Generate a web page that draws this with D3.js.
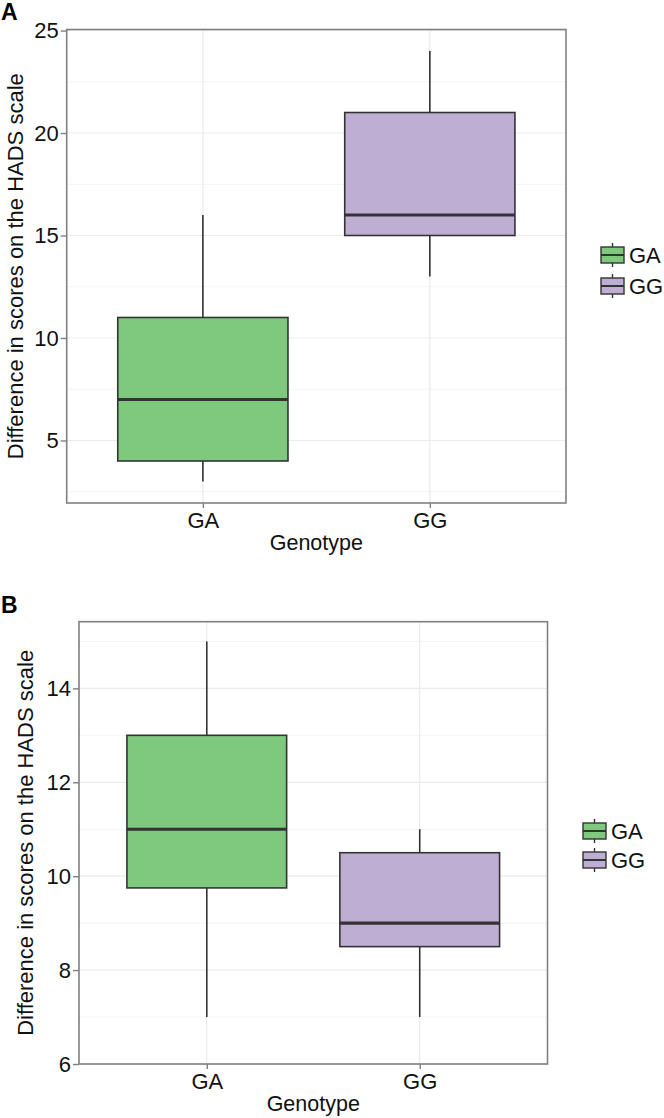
<!DOCTYPE html>
<html>
<head>
<meta charset="utf-8">
<script src="https://cdn.jsdelivr.net/npm/d3@7"></script>
<style>
  body { margin: 0; background: #fff; }
  svg { display: block; font-family: "Liberation Sans", Arial, sans-serif; }
</style>
</head>
<body>
<svg width="664" height="1118"></svg>
<script>
// genotypes, one box per genotype
var categories = ["GA", "GG"];
var colors = ["#7FC97F", "#BEAED4"];

// panel A five-number summaries
var aMin = [3, 13];
var aQ1 = [4, 15];
var aMedian = [7, 16];
var aQ3 = [11, 21];
var aMax = [16, 24];
var aTicks = [5, 10, 15, 20, 25];

// panel B five-number summaries
var bMin = [7, 7];
var bQ1 = [9.75, 8.5];
var bMedian = [11, 9];
var bQ3 = [13, 10.5];
var bMax = [15, 11];
var bTicks = [6, 8, 10, 12, 14];

var svg = d3.select("svg");

function drawPanel(p) {
    var g = svg.append("g");

    var x = d3.scaleLinear().domain([0.4, 2.6]).range([p.left, p.right]);
    var y = d3.scaleLinear().domain(p.domain).range([p.bottom, p.top]);

    // minor grid
    var minor = [];
    var step = p.ticks[1] - p.ticks[0];
    for (var i = 0; i < p.ticks.length + 1; i++) {
        var v = p.ticks[0] - step / 2 + i * step;
        if (v > p.domain[0] && v < p.domain[1]) minor.push(v);
    }
    g.selectAll(".minor").data(minor).enter().append("line")
        .attr("x1", p.left).attr("x2", p.right)
        .attr("y1", d => y(d)).attr("y2", d => y(d))
        .attr("stroke", "#f4f4f4").attr("stroke-width", 1);

    // major grid
    g.selectAll(".major").data(p.ticks).enter().append("line")
        .attr("x1", p.left).attr("x2", p.right)
        .attr("y1", d => y(d)).attr("y2", d => y(d))
        .attr("stroke", "#ebebeb").attr("stroke-width", 1.2);
    g.selectAll(".vmajor").data(categories).enter().append("line")
        .attr("x1", (d, i) => x(i + 1)).attr("x2", (d, i) => x(i + 1))
        .attr("y1", p.top).attr("y2", p.bottom)
        .attr("stroke", "#ebebeb").attr("stroke-width", 1.2);

    var s = p.stats;
    var boxes = g.selectAll(".box").data(categories).enter().append("g");
    // whiskers
    boxes.append("line")
        .attr("x1", (d, i) => x(i + 1)).attr("x2", (d, i) => x(i + 1))
        .attr("y1", (d, i) => y(s.max[i])).attr("y2", (d, i) => y(s.q3[i]))
        .attr("stroke", "#333").attr("stroke-width", 1.6);
    boxes.append("line")
        .attr("x1", (d, i) => x(i + 1)).attr("x2", (d, i) => x(i + 1))
        .attr("y1", (d, i) => y(s.q1[i])).attr("y2", (d, i) => y(s.min[i]))
        .attr("stroke", "#333").attr("stroke-width", 1.6);
    boxes.append("rect")
        .attr("x", (d, i) => x(i + 1 - 0.375))
        .attr("width", (d, i) => x(i + 1 + 0.375) - x(i + 1 - 0.375))
        .attr("y", (d, i) => y(s.q3[i]))
        .attr("height", (d, i) => y(s.q1[i]) - y(s.q3[i]))
        .attr("fill", (d, i) => colors[i])
        .attr("stroke", "#333").attr("stroke-width", 1.6);
    boxes.append("line")
        .attr("x1", (d, i) => x(i + 1 - 0.375)).attr("x2", (d, i) => x(i + 1 + 0.375))
        .attr("y1", (d, i) => y(s.median[i])).attr("y2", (d, i) => y(s.median[i]))
        .attr("stroke", "#333").attr("stroke-width", 3.2);

    // panel border
    g.append("rect")
        .attr("x", p.left).attr("y", p.top)
        .attr("width", p.right - p.left).attr("height", p.bottom - p.top)
        .attr("fill", "none").attr("stroke", "#808080").attr("stroke-width", 1.6);

    // axes
    var yAxis = g.append("g").attr("transform", "translate(" + p.left + ",0)")
        .call(d3.axisLeft(y).tickValues(p.ticks).tickSize(6).tickPadding(2));
    var xAxis = g.append("g").attr("transform", "translate(0," + p.bottom + ")")
        .call(d3.axisBottom(x).tickValues([1, 2]).tickFormat((d) => categories[d - 1])
              .tickSize(5).tickPadding(4));
    [yAxis, xAxis].forEach(function (a) {
        a.select(".domain").remove();
        a.selectAll("line").attr("stroke", "#808080").attr("stroke-width", 1.4);
        a.selectAll("text").attr("fill", "#111").style("font-size", "22px");
    });

    // titles
    g.append("text")
        .attr("transform", "translate(" + p.ylabX + "," + ((p.top + p.bottom) / 2) + ") rotate(-90)")
        .attr("text-anchor", "middle").style("font-size", "22px").attr("fill", "#111")
        .text("Difference in scores on the HADS scale");
    g.append("text")
        .attr("x", (p.left + p.right) / 2).attr("y", p.xlabY)
        .attr("text-anchor", "middle").style("font-size", "21.5px").attr("fill", "#111")
        .text("Genotype");
    g.append("text")
        .attr("x", 1).attr("y", p.letterY)
        .style("font-size", "23px").style("font-weight", "bold")
        .text(p.letter);

    // legend
    var lg = g.selectAll(".legend").data(categories).enter().append("g")
        .attr("transform", (d, i) => "translate(" + p.legX + "," + (p.legY + i * p.legStep) + ")");
    lg.append("line")
        .attr("x1", 11.5).attr("x2", 11.5).attr("y1", -4).attr("y2", 20)
        .attr("stroke", "#333").attr("stroke-width", 1.4);
    lg.append("rect")
        .attr("x", 0).attr("y", 0).attr("width", 23).attr("height", 16)
        .attr("fill", (d, i) => colors[i]).attr("stroke", "#333").attr("stroke-width", 1.4);
    lg.append("line")
        .attr("x1", 0).attr("x2", 23).attr("y1", 8).attr("y2", 8)
        .attr("stroke", "#333").attr("stroke-width", 2);
    lg.append("text")
        .attr("x", 28).attr("y", 16)
        .style("font-size", "22px").attr("fill", "#111")
        .text(d => d);
}

drawPanel({
    letter: "A", letterY: 20,
    left: 66.7, right: 566, top: 29.5, bottom: 503,
    domain: [1.95, 25.05], ticks: aTicks,
    stats: { min: aMin, q1: aQ1, median: aMedian, q3: aQ3, max: aMax },
    ylabX: 23, xlabY: 550,
    legX: 601, legY: 247, legStep: 31
});

drawPanel({
    letter: "B", letterY: 613,
    left: 79, right: 547.5, top: 621.7, bottom: 1064,
    domain: [6, 15.42], ticks: bTicks,
    stats: { min: bMin, q1: bQ1, median: bMedian, q3: bQ3, max: bMax },
    ylabX: 33, xlabY: 1111,
    legX: 583, legY: 823, legStep: 29
});
</script>
</body>
</html>
